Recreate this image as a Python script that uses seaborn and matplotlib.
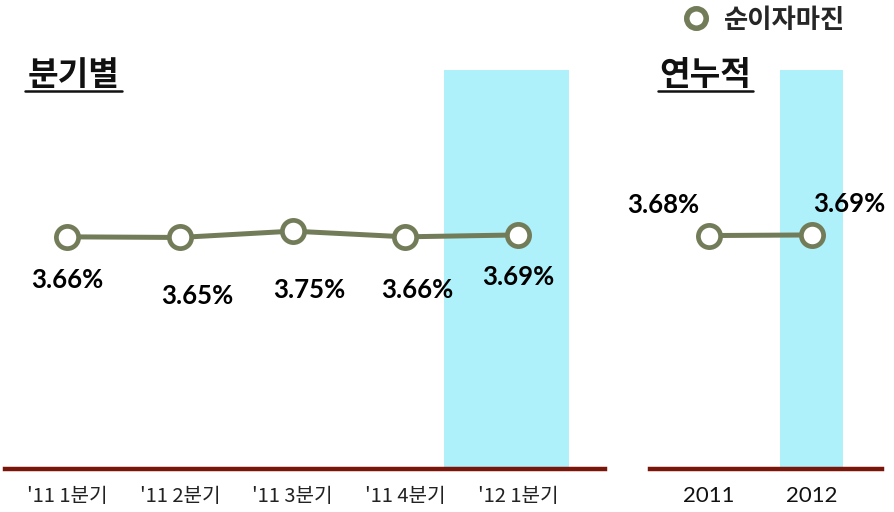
import matplotlib
matplotlib.use("Agg")
import matplotlib.pyplot as plt
from matplotlib.lines import Line2D
import seaborn as sns
import pandas as pd

sns.set_style("white")
plt.rcParams['font.family'] = ['Noto Sans CJK KR', 'DejaVu Sans']

# data
quarters = ["'11 1분기", "'11 2분기", "'11 3분기", "'11 4분기", "'12 1분기"]
quarter_nim = [3.66, 3.65, 3.75, 3.66, 3.69]
years = ["2011", "2012"]
year_nim = [3.68, 3.69]
series_name = "순이자마진"

line_color = "#737C59"
band_color = "#AEF1FB"
base_color = "#7A150A"

W, H = 895, 512
fig = plt.figure(figsize=(W / 100, H / 100), dpi=100)


def px_axes(x0, x1, y_top, y_bot):
    return fig.add_axes([x0 / W, 1 - y_bot / H, (x1 - x0) / W, (y_bot - y_top) / H])


def style_axes(ax):
    for s in ["top", "left", "right"]:
        ax.spines[s].set_visible(False)
    ax.spines["bottom"].set_color(base_color)
    ax.spines["bottom"].set_linewidth(3.2)
    ax.tick_params(axis="x", length=0, pad=12)
    ax.set_yticks([])
    ax.set_ylim(0, 6.29)
    ax.set_xlabel("")
    ax.set_ylabel("")


def draw_line(ax, labels, values):
    df = pd.DataFrame({"x": range(len(labels)), "v": values})
    sns.lineplot(data=df, x="x", y="v", ax=ax, color=line_color, lw=3.6,
                 marker="o", markersize=16, markerfacecolor="white",
                 markeredgecolor=line_color, markeredgewidth=3.4, zorder=3)
    ax.set_xticks(range(len(labels)))


label_font = dict(fontsize=18.5, fontweight="bold", color="black",
                  family=["Lato", "DejaVu Sans"])

# left panel: quarterly
ax1 = px_axes(5, 605, 70, 469)
ax1.set_xlim(-0.55, 4.77)
ax1.axvspan(3.34, 4.45, color=band_color, lw=0, zorder=0)
draw_line(ax1, quarters, quarter_nim)
style_axes(ax1)
ax1.set_xticklabels(quarters, fontsize=14.5, color="#222222", fontweight="light")
q_offsets = [(0, -43), (17, -59), (17, -59), (12, -53), (0, -42)]
for i, (v, off) in enumerate(zip(quarter_nim, q_offsets)):
    ax1.annotate(f"{v:.2f}%", (i, v), xytext=off, textcoords="offset pixels",
                 ha="center", va="center", **label_font)

# right panel: annual
ax2 = px_axes(650, 882, 70, 469)
ax2.set_xlim(-0.573, 1.68)
ax2.axvspan(0.689, 1.30, color=band_color, lw=0, zorder=0)
draw_line(ax2, years, year_nim)
style_axes(ax2)
ax2.set_xticklabels(years, fontsize=16, color="#111111", family=["Lato", "DejaVu Sans"])
y_offsets = [(-46, 31), (37, 31)]
for i, (v, off) in enumerate(zip(year_nim, y_offsets)):
    ax2.annotate(f"{v:.2f}%", (i, v), xytext=off, textcoords="offset pixels",
                 ha="center", va="center", **label_font)

# section titles with underline
for txt, x0, x1 in [("분기별", 25, 122), ("연누적", 658, 753)]:
    fig.text((x0 + x1) / 2 / W, 1 - 75 / H, txt, fontsize=24, fontweight="bold",
             ha="center", va="center", color="#111111")
    fig.add_artist(Line2D([x0 / W, x1 / W], [1 - 91 / H, 1 - 91 / H],
                          color="#111111", lw=1.8))

# legend
handle = Line2D([], [], ls="", marker="o", markersize=14, markerfacecolor="white",
                markeredgecolor=line_color, markeredgewidth=4)
fig.legend(handles=[handle], labels=[series_name], loc="center",
           bbox_to_anchor=(764 / W, 1 - 20 / H), frameon=False,
           prop={"weight": "bold", "size": 19}, handletextpad=0.55, handlelength=1.0)

fig.savefig("out.png", dpi=100)
